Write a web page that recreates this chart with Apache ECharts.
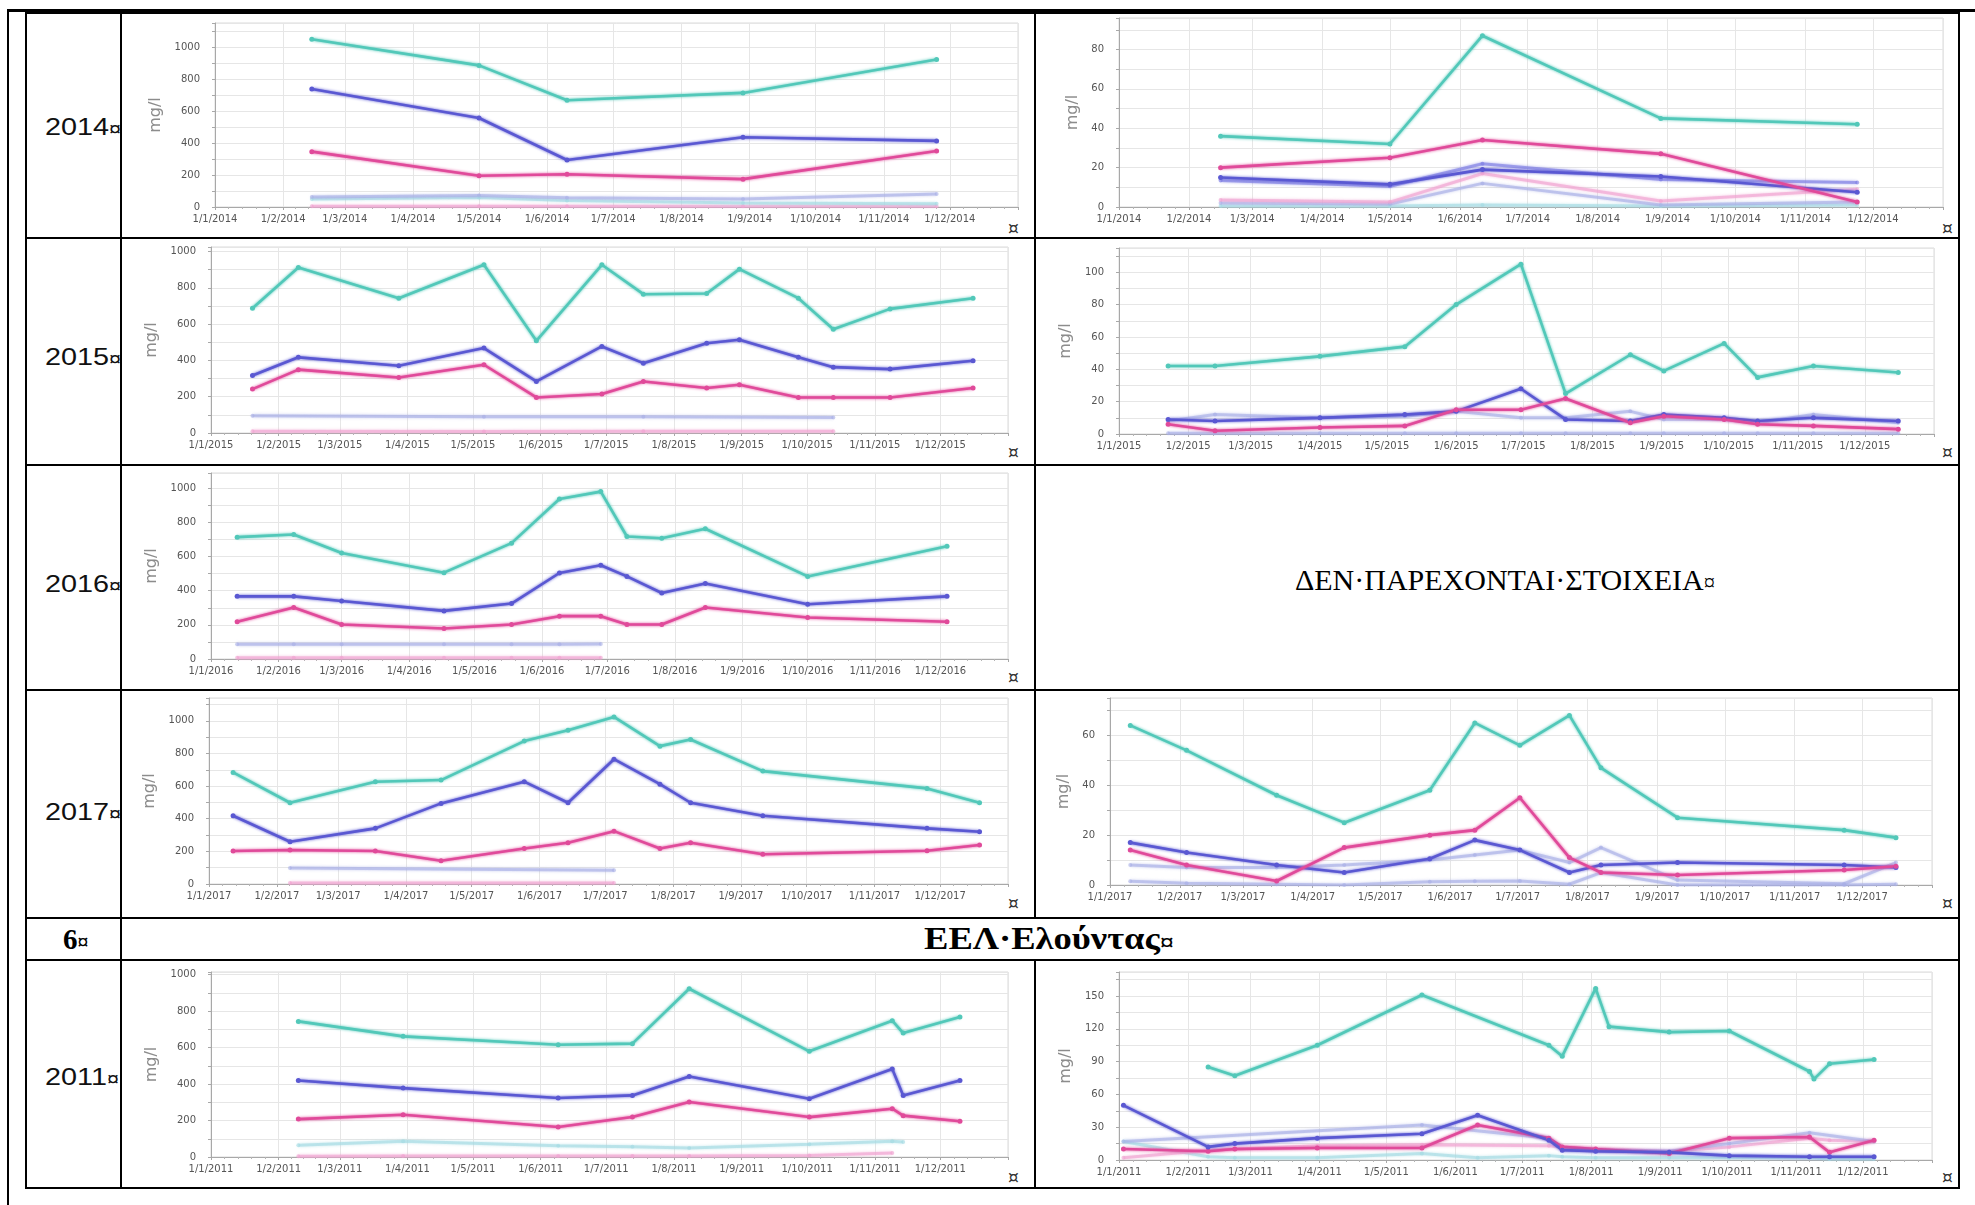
<!DOCTYPE html>
<html>
<head>
<meta charset="utf-8">
<script src="https://cdn.jsdelivr.net/npm/echarts@6/dist/echarts.min.js"></script>
<style>
  html, body { margin: 0; padding: 0; background: #fff; }
  #page { position: relative; width: 1975px; height: 1205px; overflow: hidden; background: #fff; }
  .ln { position: absolute; background: #000; }
  .ch { position: absolute; }
  .yr { position: absolute; font-family: "Liberation Sans", Arial, sans-serif; font-size: 24px; color: #111; line-height: 28px; white-space: nowrap; transform: scaleX(1.2); transform-origin: left center; }
  .sm { font-size: 0.75em; vertical-align: middle; }
  .cm { position: absolute; font-family: "DejaVu Sans", sans-serif; font-size: 17px; color: #333; line-height: 18px; }
  .serif { position: absolute; font-family: "Liberation Serif", "DejaVu Serif", serif; color: #000; white-space: nowrap; }
</style>
</head>
<body>
<div id="page">
  <!-- page frame -->
  <div class="ln" style="left:7px; top:9px; width:1968px; height:3px;"></div>
  <div class="ln" style="left:7px; top:9px; width:2px; height:1196px;"></div>
  <!-- table -->
  <div class="ln" style="left:25px; top:12px; width:1935px; height:2px;"></div>
  <div class="ln" style="left:25px; top:1187px; width:1935px; height:2px;"></div>
  <div class="ln" style="left:25px; top:12px; width:2px; height:1177px;"></div>
  <div class="ln" style="left:1958px; top:12px; width:2px; height:1177px;"></div>
  <div class="ln" style="left:120px; top:12px; width:2px; height:1177px;"></div>
  <div class="ln" style="left:1034px; top:12px; width:2px; height:907px;"></div>
  <div class="ln" style="left:1034px; top:960px; width:2px; height:228px;"></div>
  <div class="ln" style="left:25px; top:237px; width:1935px; height:2px;"></div>
  <div class="ln" style="left:25px; top:464px; width:1935px; height:2px;"></div>
  <div class="ln" style="left:25px; top:689px; width:1935px; height:2px;"></div>
  <div class="ln" style="left:25px; top:917px; width:1935px; height:2px;"></div>
  <div class="ln" style="left:25px; top:959px; width:1935px; height:2px;"></div>

  <div class="yr" style="left:45px; top:113px;">2014<span class="sm">¤</span></div>
  <div class="yr" style="left:45px; top:343px;">2015<span class="sm">¤</span></div>
  <div class="yr" style="left:45px; top:570px;">2016<span class="sm">¤</span></div>
  <div class="yr" style="left:45px; top:798px;">2017<span class="sm">¤</span></div>
  <div class="yr" style="left:45px; top:1063px;">2011<span class="sm">¤</span></div>

  <div class="serif" style="left:63px; top:922px; font-size:29px; font-weight:bold; line-height:34px;">6<span class="sm">¤</span></div>
  <div class="serif" style="left:924px; top:921px; font-size:31px; font-weight:bold; line-height:36px; transform:scaleX(1.18); transform-origin:left center;">ΕΕΛ·Ελούντας<span class="sm">¤</span></div>
  <div class="serif" style="left:1295px; top:562px; font-size:30px; line-height:36px;">ΔΕΝ·ΠΑΡΕΧΟΝΤΑΙ·ΣΤΟΙΧΕΙΑ<span class="sm">¤</span></div>

  <div class="cm" style="left:1008px; top:219px;">¤</div>
  <div class="cm" style="left:1942px; top:219px;">¤</div>
  <div class="cm" style="left:1008px; top:443px;">¤</div>
  <div class="cm" style="left:1942px; top:443px;">¤</div>
  <div class="cm" style="left:1008px; top:668px;">¤</div>
  <div class="cm" style="left:1008px; top:894px;">¤</div>
  <div class="cm" style="left:1942px; top:894px;">¤</div>
  <div class="cm" style="left:1008px; top:1168px;">¤</div>
  <div class="cm" style="left:1942px; top:1168px;">¤</div>

  <div class="ch" id="cA"></div>
  <div class="ch" id="cB"></div>
  <div class="ch" id="cC"></div>
  <div class="ch" id="cD"></div>
  <div class="ch" id="cE"></div>
  <div class="ch" id="cF"></div>
  <div class="ch" id="cG"></div>
  <div class="ch" id="cH"></div>
  <div class="ch" id="cI"></div>
</div>

<script>
// colours of the series
const TEAL = '#52c8b9', BLUE = '#5a58d2', MAG = '#e04a9a';
const LAV = '#a9afe6', LPINK = '#f0a2d0', LTEAL = '#a3dbe2', BLUE2 = '#7c7ce2';

// 2014 - left
const datesA = ['2014-02-14', '2014-05-01', '2014-06-10', '2014-08-29', '2014-11-25'];
const tealA = [1048, 885, 667, 713, 922];
const blueA = [738, 556, 294, 436, 413];
const magA = [346, 195, 205, 174, 350];
const lavA = [62, 72, 58, 50, 82];
const ltealA = [50, 60, 40, 25, 20];
const lpinkA = [4, 4, 4, 4, 4];

// 2014 - right
const datesB = ['2014-02-15', '2014-05-01', '2014-06-11', '2014-08-29', '2014-11-24'];
const tealB = [36, 32, 87, 45, 42];
const magB = [20, 25, 34, 27, 2.5];
const blueB = [15, 11.5, 19, 15.5, 7.5];
const blue2B = [13.5, 10.5, 22, 14, 12.5];
const lpinkB = [3.5, 2.5, 17, 3, 9];
const lavB = [2, 1.5, 12, 1, 2.5];
const ltealB = [0.5, 0.5, 1, 0.5, 1];

// 2015 - left
const datesC = ['2015-01-20', '2015-02-10', '2015-03-28', '2015-05-06', '2015-05-30', '2015-06-29', '2015-07-18',
  '2015-08-16', '2015-08-31', '2015-09-27', '2015-10-13', '2015-11-08', '2015-12-16'];
const tealC = [688, 912, 743, 927, 508, 927, 765, 769, 903, 743, 572, 684, 743];
const blueC = [317, 417, 371, 468, 284, 477, 385, 495, 514, 417, 363, 352, 398];
const magC = [242, 349, 306, 376, 196, 215, 284, 248, 266, 196, 196, 196, 248];
const lavC = [95, null, null, 90, null, null, 90, null, null, null, 85, null, null];
const lpinkC = [10, null, null, 8, null, null, 10, null, null, null, 10, null, null];

// 2015 - right
const datesD = ['2015-01-23', '2015-02-13', '2015-04-01', '2015-05-09', '2015-06-01', '2015-06-30', '2015-07-20',
  '2015-08-18', '2015-09-02', '2015-09-29', '2015-10-14', '2015-11-08', '2015-12-16'];
const tealD = [42, 42, 48, 54, 80, 105, 25, 49, 39, 56, 35, 42, 38];
const magD = [6, 2, 4, 5, 15, 15, 22, 7, 11, 9, 6, 5, 3];
const blueD = [9, 8, 10, 12, 14, 28, 9, 8, 12, 10, 8, 10, 8];
const lavD = [8, 12, 10, 11, 14, 10, 10, 14, 9, 9, 7, 12, 7];
const ltealD = [0.5, 0.5, 0.5, 0.5, 0.5, 0.5, 0.5, 0.5, 0.5, 0.5, 0.5, 0.5, 0.5];

// 2016 - left
const datesE = ['2016-01-13', '2016-02-08', '2016-03-01', '2016-04-17', '2016-05-18', '2016-06-09', '2016-06-28',
  '2016-07-10', '2016-07-26', '2016-08-15', '2016-10-01', '2016-12-04'];
const tealE = [714, 730, 621, 506, 679, 938, 981, 718, 708, 763, 484, 661];
const blueE = [367, 367, 340, 282, 325, 504, 549, 484, 387, 442, 321, 367];
const magE = [218, 302, 202, 179, 202, 251, 251, 202, 202, 302, 243, 218];
const lavE = [86, 86, 86, 86, 86, 86, 88, null, null, null, null, null];
const lpinkE = [8, 8, 8, 8, 8, 8, 8, null, null, null, null, null];

// 2017 - left
const datesF = ['2017-01-12', '2017-02-07', '2017-03-18', '2017-04-17', '2017-05-25', '2017-06-14', '2017-07-05',
  '2017-07-26', '2017-08-09', '2017-09-11', '2017-11-25', '2017-12-19'];
const tealF = [684, 498, 627, 637, 876, 943, 1024, 845, 886, 692, 586, 498];
const blueF = [418, 259, 341, 494, 627, 498, 765, 612, 498, 418, 341, 320];
const magF = [202, 208, 202, 143, 218, 253, 324, 218, 253, 182, 204, 239];
const lavF = [null, 98, null, null, null, null, 84, null, null, null, null, null];
const lpinkF = [null, 6, null, null, null, null, 6, null, null, null, null, null];

// 2017 - right
const datesG = ['2017-01-10', '2017-02-04', '2017-03-16', '2017-04-15', '2017-05-23', '2017-06-12', '2017-07-02',
  '2017-07-24', '2017-08-07', '2017-09-10', '2017-11-23', '2017-12-16'];
const tealG = [64, 54, 36, 25, 38, 65, 56, 68, 47, 27, 22, 19];
const magG = [14, 8, 1.6, 15, 20, 22, 35, 11, 5, 4, 6, 7.5];
const blueG = [17, 13, 8, 5, 10.5, 18, 14, 5, 8, 9, 8, 7];
const lavG = [8, 7, 7, 8, 10, 12, 14, 9, 15, 2, 0.5, 9];
const ltealG = [1.5, 0.7, 0.3, 0, 1.3, 1.5, 1.6, 0.3, 5, 0, 0, 0.3];

// 2011 - left
const datesH = ['2011-02-10', '2011-03-30', '2011-06-09', '2011-07-13', '2011-08-08', '2011-10-02', '2011-11-09',
  '2011-11-14', '2011-12-10'];
const tealH = [744, 662, 616, 622, 923, 580, 748, 680, 768];
const blueH = [420, 378, 324, 338, 442, 320, 483, 338, 420];
const magH = [208, 232, 165, 219, 302, 219, 265, 227, 196];
const ltealH = [64, 86, 62, 56, 49, 70, 86, 82, null];
const lpinkH = [4, 6, 5, 5, 5, 8, 22, null, null];

// 2011 - right
const datesI = ['2011-01-03', '2011-02-10', '2011-02-22', '2011-03-31', '2011-05-17', '2011-06-11', '2011-07-13',
  '2011-07-19', '2011-08-03', '2011-08-09', '2011-09-05', '2011-10-02', '2011-11-07', '2011-11-09', '2011-11-16', '2011-12-06'];
const tealI = [null, 85, 77, 105, 151, null, 105, 95, 157, 122, 117, 118, 81, 74, 88, 92];
const blueI = [50, 12, 15, 20, 24, 41, 18, 9, 8, null, 7, 4, 3, null, 3, 3];
const magI = [10, 8, 10, 11, 11, 32, 20, 12, 10, null, 6, 20, 21, null, 7, 18];
const lavI = [17, null, null, null, 32, null, 20, 10, 8, null, 8, 15, 25, null, null, 17];
const lpinkI = [2, 9, null, 13, 14, null, 13, 12, 10, null, 8, 12, 20, null, 18, 17];
const ltealI = [17, 3, 2, 2, 6, 2, 4, 3, 2, null, 2, 2, 2, null, 1, 1];

const DAY = 86400000;

function fmtDate(v) {
  const d = new Date(v);
  return d.getDate() + '/' + (d.getMonth() + 1) + '/' + d.getFullYear();
}

// cell = [x0, y0, x1, y1] of the chart box, plot = [x0, y0, x1, y1] of the plot area (page pixels)
function drawChart(id, cell, plot, year, yMax, yInt, yStep, nameGap, dates, lines) {
  const el = document.getElementById(id);
  el.style.left = cell[0] + 'px';
  el.style.top = cell[1] + 'px';
  el.style.width = (cell[2] - cell[0]) + 'px';
  el.style.height = (cell[3] - cell[1]) + 'px';
  let myChart = echarts.init(el);
  const series = lines.map((l) => ({
    type: 'line',
    data: dates.map((d, i) => [d, l.v[i]]),
    connectNulls: true,
    symbol: 'circle',
    symbolSize: l.faint ? 4 : 5,
    lineStyle: { color: l.c, width: l.faint ? 3 : 2.6, opacity: l.faint ? 0.6 : 1, shadowColor: l.c, shadowBlur: 3 },
    itemStyle: { color: l.c, opacity: l.faint ? 0.6 : 1 },
    z: l.faint ? 1 : 2,
    silent: true,
  }));
  const option = {
    animation: false,
    grid: {
      left: plot[0] - cell[0],
      top: plot[1] - cell[1],
      width: plot[2] - plot[0],
      height: plot[3] - plot[1],
      show: true,
      borderColor: '#dadada',
      borderWidth: 1,
    },
    xAxis: {
      type: 'time',
      min: +new Date(year, 0, 1),
      max: +new Date(year + 1, 0, 1),
      splitNumber: 12,
      minInterval: 28 * DAY,
      maxInterval: 31 * DAY,
      axisLine: { show: true, lineStyle: { color: '#a8a8a8' } },
      axisTick: { show: true, length: 3, lineStyle: { color: '#a8a8a8' } },
      minorTick: { show: true, splitNumber: 5, length: 2, lineStyle: { color: '#b5b5b5' } },
      splitLine: { show: true, lineStyle: { color: '#e6e6e6' } },
      axisLabel: {
        formatter: fmtDate,
        showMinLabel: true,
        showMaxLabel: false,
        hideOverlap: false,
        fontFamily: 'DejaVu Sans',
        fontSize: 10,
        color: '#555',
        margin: 7,
      },
    },
    yAxis: {
      type: 'value',
      min: 0,
      max: yMax,
      interval: yInt,
      name: 'mg/l',
      nameLocation: 'middle',
      nameGap: nameGap,
      nameTextStyle: { fontFamily: 'DejaVu Sans', fontSize: 16, color: '#8c8c8c' },
      axisLine: { show: true, lineStyle: { color: '#a8a8a8' } },
      axisTick: { show: true, length: 3, lineStyle: { color: '#a8a8a8' } },
      splitLine: { show: true, lineStyle: { color: '#e6e6e6' } },
      axisLabel: {
        formatter: (v) => (v % yStep === 0 ? String(v) : ''),
        fontFamily: 'DejaVu Sans',
        fontSize: 10,
        color: '#555',
        margin: 15,
      },
    },
    series: series,
  };
  option && myChart.setOption(option);
}

const L = [123, 1034], R = [1037, 1957];

drawChart('cA', [L[0], 14, L[1], 237], [215, 23, 1018, 207], 2014, 1150, 100, 200, 38, datesA, [
  { v: lpinkA, c: LPINK, faint: true }, { v: ltealA, c: LTEAL, faint: true }, { v: lavA, c: LAV, faint: true },
  { v: magA, c: MAG }, { v: blueA, c: BLUE }, { v: tealA, c: TEAL },
]);
drawChart('cB', [R[0], 14, R[1], 237], [1119, 18, 1943, 207], 2014, 96, 10, 20, 30, datesB, [
  { v: ltealB, c: LTEAL, faint: true }, { v: lavB, c: LAV, faint: true }, { v: lpinkB, c: LPINK, faint: true },
  { v: blue2B, c: BLUE2, faint: true }, { v: blueB, c: BLUE }, { v: magB, c: MAG }, { v: tealB, c: TEAL },
]);
drawChart('cC', [L[0], 240, L[1], 464], [211, 247, 1008, 433], 2015, 1025, 100, 200, 42, datesC, [
  { v: lpinkC, c: LPINK, faint: true }, { v: lavC, c: LAV, faint: true },
  { v: magC, c: MAG }, { v: blueC, c: BLUE }, { v: tealC, c: TEAL },
]);
drawChart('cD', [R[0], 240, R[1], 464], [1119, 248, 1934, 434], 2015, 115, 10, 20, 33, datesD, [
  { v: ltealD, c: LAV, faint: true }, { v: lavD, c: LAV, faint: true },
  { v: blueD, c: BLUE }, { v: magD, c: MAG }, { v: tealD, c: TEAL },
]);
drawChart('cE', [L[0], 467, L[1], 689], [211, 473, 1008, 659], 2016, 1090, 100, 200, 42, datesE, [
  { v: lpinkE, c: LPINK, faint: true }, { v: lavE, c: LAV, faint: true },
  { v: magE, c: MAG }, { v: blueE, c: BLUE }, { v: tealE, c: TEAL },
]);
drawChart('cF', [L[0], 692, L[1], 917], [209, 698, 1008, 884], 2017, 1140, 100, 200, 42, datesF, [
  { v: lpinkF, c: LPINK, faint: true }, { v: lavF, c: LAV, faint: true },
  { v: magF, c: MAG }, { v: blueF, c: BLUE }, { v: tealF, c: TEAL },
]);
drawChart('cG', [R[0], 692, R[1], 917], [1110, 698, 1932, 885], 2017, 75, 10, 20, 30, datesG, [
  { v: ltealG, c: LAV, faint: true }, { v: lavG, c: LAV, faint: true },
  { v: blueG, c: BLUE }, { v: magG, c: MAG }, { v: tealG, c: TEAL },
]);
drawChart('cH', [L[0], 962, L[1], 1187], [211, 972, 1008, 1157], 2011, 1015, 100, 200, 42, datesH, [
  { v: lpinkH, c: LPINK, faint: true }, { v: ltealH, c: LTEAL, faint: true },
  { v: magH, c: MAG }, { v: blueH, c: BLUE }, { v: tealH, c: TEAL },
]);
drawChart('cI', [R[0], 962, R[1], 1187], [1119, 972, 1932, 1160], 2011, 172, 15, 30, 33, datesI, [
  { v: ltealI, c: LTEAL, faint: true }, { v: lpinkI, c: LPINK, faint: true }, { v: lavI, c: LAV, faint: true },
  { v: magI, c: MAG }, { v: blueI, c: BLUE }, { v: tealI, c: TEAL },
]);
</script>
</body>
</html>
